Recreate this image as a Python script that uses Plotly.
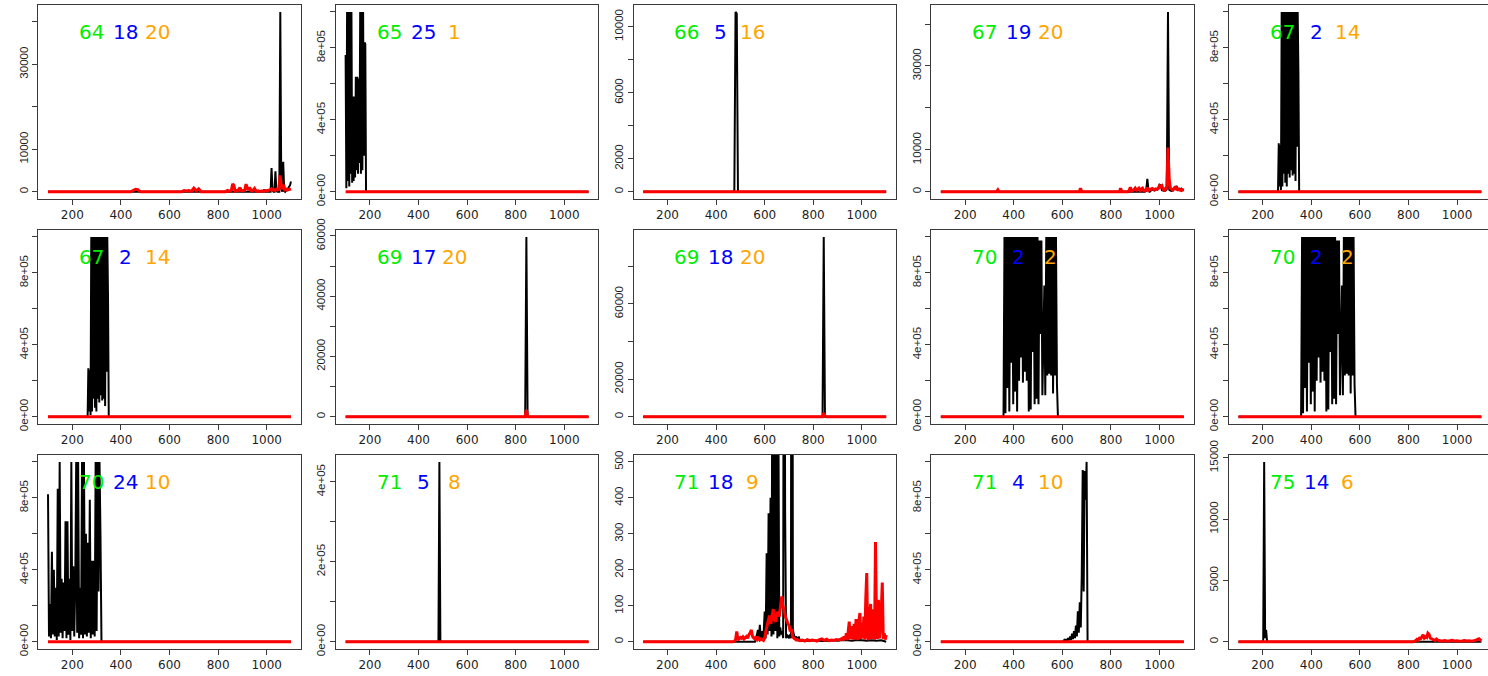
import plotly.graph_objects as go

# ---- labels printed in each panel (green / blue / orange) ----
tag_green = [64, 65, 66, 67, 67, 67, 69, 69, 70, 70, 70, 71, 71, 71, 75]
tag_blue = [18, 25, 5, 19, 2, 2, 17, 18, 2, 2, 24, 5, 18, 4, 14]
tag_orange = [20, 1, 16, 20, 14, 14, 20, 20, 2, 2, 10, 8, 9, 10, 6]

X_MIN, X_MAX = 100, 1100
x_ticks = [200, 400, 600, 800, 1000]

# ---- series: segments of (x_start, x_step, values); zero elsewhere ----
black_01 = [(985, 4, [0, 470, 0]),
            (1016, 4, [0, 5570, 400, 0, 0, 4800, 300, 0, 0, 0, 42350, 900, 0, 7060, 200, 0,
                       300, 500, 800, 1200, 1500, 2430])]
red_01 = [(440, 10, [0, 300, 600, 500, 0]),
          (650, 10, [0, 300, 200, 300, 100, 860, 200, 700, 0]),
          (830, 5, [0, 200, 300, 100, 200, 400, 1880, 1500, 200, 300, 200, 600, 1000, 300, 200,
                    300, 400, 1800, 900, 400, 1100, 300, 200, 400, 780, 300, 100, 200, 100, 150,
                    200, 100, 200, 300, 200, 300, 400, 500, 700, 400, 500, 300, 600, 400, 500,
                    3840, 1650, 600, 1650, 500, 600, 400, 500, 600, 700])]

black_02 = [(100, 3, [760000, 20000, 1000000, 60000, 1000000, 30000, 1000000, 100000, 1000000,
                      50000, 530000, 60000, 530000, 80000, 640000, 120000, 640000, 100000, 630000,
                      160000, 1000000, 100000, 1000000, 120000, 1000000, 200000, 830000, 820000, 0])]
red_02 = []

black_03 = [(475, 5, [0, 10900, 10800, 0])]
red_03 = []

black_04 = [(940, 5, [0, 200, 3100, 200, 0, 300, 500, 400, 300, 600, 500, 800, 1670, 1500, 400,
                      300, 200, 300, 600, 42900, 500, 300, 200, 400, 600, 800, 1430, 500, 400,
                      600, 800, 500, 300])]
red_04 = [(330, 5, [0, 480, 0]),
          (670, 5, [0, 870, 0]),
          (835, 5, [0, 870, 0]),
          (870, 5, [0, 300, 1100, 200, 300, 500, 870, 400, 600, 870, 300, 700, 870, 300, 200, 400,
                    1000, 300, 500, 600, 800, 600, 500, 700, 600, 800, 1430, 1200, 1430, 600, 400,
                    800, 500, 10560, 2860, 800, 600, 400, 800, 1270, 600, 500, 700, 400, 300, 500,
                    400])]

black_05 = [(263, 3, [0, 270000, 30000, 260000, 10000, 1000000, 30000, 1000000, 100000, 1000000,
                      50000, 1000000, 30000, 1000000, 100000, 1000000, 80000, 1000000, 120000,
                      1000000, 90000, 1000000, 100000, 1000000, 60000, 1000000, 250000, 1000000,
                      660000, 0])]
red_05 = []

black_07 = [(839, 5, [0, 59700, 0])]
red_07 = [(839, 5, [0, 2300, 300, 0])]

black_08 = [(838, 5, [0, 95600, 0])]
red_08 = [(838, 5, [0, 2000, 500, 0])]

black_09 = [(358, 4, [0, 1000000, 20000, 1000000, 160000, 1000000, 30000, 1000000, 300000,
                      1000000, 70000, 1000000, 140000, 1000000, 30000, 1000000, 200000, 1000000,
                      330000, 1000000, 190000, 1000000, 250000, 1000000, 200000, 1000000, 30000,
                      1000000, 40000, 1000000, 360000, 1000000, 70000, 1000000, 100000, 1000000,
                      70000, 980000, 460000, 980000, 120000, 400000, 730000, 120000, 1000000,
                      230000, 1000000, 240000, 1000000, 230000, 1000000, 130000, 1000000, 230000,
                      1000000, 180000, 0])]
red_09 = []

black_11 = [(100, 4, [820000, 30000, 210000, 20000, 500000, 40000, 400000, 30000, 300000, 10000,
                      850000, 30000, 1000000, 50000, 350000, 20000, 330000, 60000, 670000, 20000,
                      670000, 40000, 350000, 10000, 1000000, 60000, 420000, 30000, 300000,
                      1000000, 50000, 1000000, 20000, 300000, 40000, 1000000, 20000, 1000000,
                      40000, 600000, 30000, 550000, 50000, 790000, 20000, 450000, 40000, 450000,
                      30000, 1000000, 60000, 1000000, 280000, 1000000, 580000, 0])]
red_11 = []

black_12 = [(482, 4, [0, 450000, 0])]
red_12 = []

black_13 = [(560, 4, [0, 10, 20, 33, 10, 47, 5, 30, 10, 30, 84, 10, 246, 20, 357, 30, 400, 15,
                      900, 20, 1500, 30, 1200, 10, 700, 15, 40, 20, 30, 10, 2000, 367, 10, 20, 15,
                      10, 20, 10, 3000, 33, 20, 10, 15, 10, 5, 15, 5, 3, 2]),
            (760, 20, [3, 2, 4, 3, 2, 3, 4, 3, 5, 4, 3, 5, 4, 3, 4, 3, 4])]
red_13 = [(470, 5, [0, 2, 5, 29, 5, 8, 12, 10, 14, 8, 12, 15, 10, 20, 25, 33, 15, 10, 8, 15, 6,
                    10, 5, 8, 6, 4, 10, 30, 45, 60, 73, 50, 70, 91, 60, 56, 75, 84, 70, 98, 126,
                    100, 89, 70, 61, 52, 45, 29, 35, 15, 10, 8, 5, 6, 4]),
          (745, 10, [3, 5, 2, 6, 3, 5, 4, 2, 6, 8, 4, 7, 3, 5, 4, 6, 5, 8]),
          (920, 4, [10, 4, 15, 6, 24, 5, 30, 56, 8, 35, 43, 6, 50, 8, 63, 10, 6, 60, 80,
                    8, 52, 10, 70, 6, 120, 191, 12, 5, 80, 105, 8, 33, 90, 6, 277, 61, 8,
                    117, 10, 33, 90, 165, 8, 24, 6, 19])]

black_14 = [(600, 4, [0, 3000, 10000, 2000, 15000, 5000, 20000, 8000, 30000, 10000, 45000, 15000,
                      60000, 20000, 90000, 30000, 170000, 50000, 220000, 80000, 370000, 955000,
                      280000, 950000, 790000, 1000000, 0])]
red_14 = []

black_15 = [(202, 4, [0, 14670, 300, 980, 0])]
red_15 = [(820, 5, [0, 50, 100, 200, 150, 300, 250, 400, 570, 300, 400, 350, 700, 600, 300, 250,
                    200, 150, 100, 220, 150, 100, 80, 60]),
          (940, 10, [60, 100, 50, 80, 120, 60, 90, 50, 70, 100, 60, 80, 50, 100, 150, 245, 80])]

# ---- y-axis ticks (blank text = tick without a printed label) ----
yt_1e6 = [0, 200000, 400000, 600000, 800000, 1000000]
yl_1e6 = ["0e+00", "", "4e+05", "", "8e+05", ""]
yt_40k = [0, 10000, 20000, 30000, 40000]
yl_40k = ["0", "10000", "", "30000", ""]
yt_10k = [0, 2000, 4000, 6000, 8000, 10000]
yl_10k = ["0", "2000", "", "6000", "", "10000"]
yt_60k = [0, 10000, 20000, 30000, 40000, 50000, 60000]
yl_60k = ["0", "", "20000", "", "40000", "", "60000"]
yt_80k = [0, 20000, 40000, 60000, 80000]
yl_80k = ["0", "20000", "", "60000", ""]
yt_4e5 = [0, 100000, 200000, 300000, 400000]
yl_4e5 = ["0e+00", "", "2e+05", "", "4e+05"]
yt_500 = [0, 100, 200, 300, 400, 500]
yl_500 = ["0", "100", "200", "300", "400", "500"]
yt_15k = [0, 5000, 10000, 15000]
yl_15k = ["0", "5000", "10000", "15000"]

panels = [
    (black_01, red_01, yt_40k, yl_40k, None),
    (black_02, red_02, yt_1e6, yl_1e6, None),
    (black_03, red_03, yt_10k, yl_10k, None),
    (black_04, red_04, yt_40k, yl_40k, None),
    (black_05, red_05, yt_1e6, yl_1e6, None),
    (black_05, red_05, yt_1e6, yl_1e6, None),
    (black_07, red_07, yt_60k, yl_60k, None),
    (black_08, red_08, yt_80k, yl_80k, None),
    (black_09, red_09, yt_1e6, yl_1e6, None),
    (black_09, red_09, yt_1e6, yl_1e6, None),
    (black_11, red_11, yt_1e6, yl_1e6, None),
    (black_12, red_12, yt_4e5, yl_4e5, None),
    (black_13, red_13, yt_500, yl_500, (0, 500)),
    (black_14, red_14, yt_1e6, yl_1e6, None),
    (black_15, red_15, yt_15k, yl_15k, None),
]


def build(segments):
    xs, ys = [], []
    for x0, step, vals in segments:
        for i, v in enumerate(vals):
            xs.append(x0 + step * i)
            ys.append(v)
    if not xs or xs[0] > X_MIN:
        xs.insert(0, X_MIN)
        ys.insert(0, 0)
    if xs[-1] < X_MAX:
        xs.append(X_MAX)
        ys.append(0)
    return xs, ys


# ---- page geometry (pixels) ----
W, H = 1488, 676
COL_STEP, ROW_STEP = 297.6, 225.0
BOX_LEFT, BOX_TOP = 38.3, 4.7
BOX_W, BOX_H = 262.4, 194.3
XR = (60, 1140)                      # x range with 4% padding around 100..1100
PX_PER_X = BOX_W / (XR[1] - XR[0])

AXIS_COL = "#3a3a3a"
TICK_FONT_X = dict(family="DejaVu Sans", size=12, color="#1e1e1e")
TICK_FONT_Y = dict(family="Liberation Sans, Arial", size=11.5, color="#1e1e1e")
TAG_FONT = "DejaVu Sans"
TAG_X = [280, 420, 550]
TAG_Y = 0.861

fig = go.Figure()
layout = {}
annotations = []

for k, (blk, red, yt, yl, ylim) in enumerate(panels):
    n = k + 1
    r, c = divmod(k, 5)
    xname = "x" if n == 1 else f"x{n}"
    yname = "y" if n == 1 else f"y{n}"

    bx, by = build(blk)
    rx, ry = build(red)

    fig.add_trace(go.Scatter(x=bx, y=by, mode="lines", xaxis=xname, yaxis=yname,
                             line=dict(color="black", width=2, simplify=False),
                             hoverinfo="skip", showlegend=False))
    fig.add_trace(go.Scatter(x=rx, y=ry, mode="lines", xaxis=xname, yaxis=yname,
                             line=dict(color="#ff0000", width=3, simplify=False),
                             hoverinfo="skip", showlegend=False))

    if ylim is None:
        lo, hi = min(by + ry), max(by + ry)
    else:
        lo, hi = ylim
    pad = 0.04 * (hi - lo)
    yr = [lo - pad, hi + pad]

    left_px = BOX_LEFT + COL_STEP * c
    right_px = min(left_px + BOX_W, W)
    clipped = right_px < left_px + BOX_W
    xr_hi = XR[0] + (right_px - left_px) / PX_PER_X
    top_px = BOX_TOP + ROW_STEP * r
    bot_px = top_px + BOX_H

    ax_common = dict(showline=True, linecolor=AXIS_COL, linewidth=1,
                     ticks="outside", ticklen=5, tickwidth=1, tickcolor=AXIS_COL,
                     showgrid=False, zeroline=False, fixedrange=True)

    layout["xaxis" if n == 1 else f"xaxis{n}"] = dict(
        ax_common, mirror=True, domain=[left_px / W, right_px / W], range=[XR[0], xr_hi],
        anchor=yname, tickvals=x_ticks, ticktext=[str(v) for v in x_ticks],
        tickfont=TICK_FONT_X)
    layout["yaxis" if n == 1 else f"yaxis{n}"] = dict(
        ax_common, mirror=not clipped, domain=[1 - bot_px / H, 1 - top_px / H], range=yr,
        anchor=xname, tickvals=yt, ticktext=yl, tickangle=-90,
        tickfont=TICK_FONT_Y)

    for xv, val, col in zip(TAG_X, (tag_green[k], tag_blue[k], tag_orange[k]),
                            ("#00ee00", "#0000ff", "#ffa500")):
        annotations.append(dict(x=xv, y=TAG_Y, xref=xname, yref=f"{yname} domain",
                                text=str(val), showarrow=False, xanchor="center",
                                yanchor="middle",
                                font=dict(family=TAG_FONT, size=20, color=col)))

fig.update_layout(width=W, height=H,
                  margin=dict(l=0, r=0, t=0, b=0, pad=0, autoexpand=False),
                  paper_bgcolor="white", plot_bgcolor="white",
                  showlegend=False, annotations=annotations, **layout)

fig.write_html("out.html")
